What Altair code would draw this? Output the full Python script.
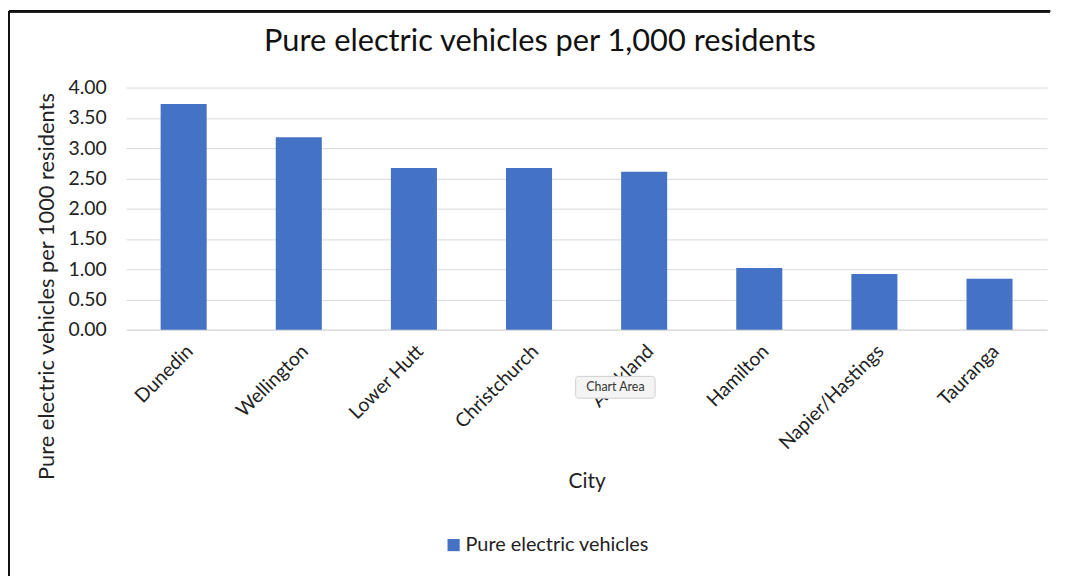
import altair as alt
import pandas as pd

cities = ["Dunedin", "Wellington", "Lower Hutt", "Christchurch", "Auckland",
          "Hamilton", "Napier/Hastings", "Tauranga"]
values = [3.73, 3.18, 2.67, 2.67, 2.61, 1.02, 0.92, 0.84]
series_name = "Pure electric vehicles"
chart_title = "Pure electric vehicles per 1,000 residents"
y_ticks = [0, 0.5, 1.0, 1.5, 2.0, 2.5, 3.0, 3.5, 4.0]

df = pd.DataFrame({"City": cities, "Value": values, "Series": [series_name] * len(cities)})

FONT = "Lato"

bars = alt.Chart(df).mark_bar(color="#4472C4").encode(
    x=alt.X("City:N", sort=cities,
            scale=alt.Scale(paddingInner=0.6, paddingOuter=0.3),
            axis=alt.Axis(title="City", labelAngle=-45, labelFontSize=19.5,
                          labelPadding=12, labelColor="#222", ticks=False,
                          domainColor="#d9d9d9", titleFontSize=21,
                          titleFontWeight="normal", titleY=153,
                          titleBaseline="middle", titleColor="#222")),
    y=alt.Y("Value:Q", scale=alt.Scale(domain=[0, 4]),
            axis=alt.Axis(title="Pure electric vehicles per 1000 residents",
                          values=y_ticks, format=".2f", labelFontSize=19.5,
                          labelPadding=20, labelColor="#222", ticks=False,
                          domain=False, gridColor="#d9d9d9",
                          titleFontSize=22, titleFontWeight="normal",
                          titleX=-80, titleY=200, titleAngle=-90,
                          titleAlign="center", titleBaseline="middle",
                          titleColor="#222")),
    color=alt.Color("Series:N", scale=alt.Scale(range=["#4472C4"]),
                    legend=alt.Legend(title=None, orient="none", legendX=320,
                                      legendY=451, symbolType="square",
                                      symbolSize=150, labelFontSize=20,
                                      labelOffset=2, labelLimit=400,
                                      labelColor="#222", labelFont=FONT)),
)

# chart title
title_df = pd.DataFrame({"t": [chart_title]})
title_mark = alt.Chart(title_df).mark_text(fontSize=31, font=FONT, color="#111",
                                            baseline="middle", align="center").encode(
    text="t:N", x=alt.value(417), y=alt.value(-46))

# chart-area frame (left and top edges)
frame_left = alt.Chart(df).mark_rule(color="#111", strokeWidth=2).encode(
    x=alt.value(-118), y=alt.value(-77), y2=alt.value(492))
frame_top = alt.Chart(df).mark_rule(color="#111", strokeWidth=2).encode(
    x=alt.value(-118), x2=alt.value(931), y=alt.value(-77))

# "Chart Area" hover tooltip visible in the screenshot
tip_df = pd.DataFrame({"t": ["Chart Area"]})
tip_box = alt.Chart(tip_df).mark_rect(fill="#f4f4f4", stroke="#cfcfcf",
                                       cornerRadius=3).encode(
    x=alt.value(453), x2=alt.value(533), y=alt.value(291), y2=alt.value(313))
tip_text = alt.Chart(tip_df).mark_text(fontSize=12.5, font=FONT, color="#333").encode(
    text="t:N", x=alt.value(493), y=alt.value(302))

chart = alt.layer(bars, title_mark, frame_left, frame_top, tip_box, tip_text).properties(
    width=928, height=244,
    autosize=alt.AutoSizeParams(type="none"),
    padding={"left": 119, "top": 78, "right": 11, "bottom": 248},
).configure(font=FONT).configure_view(stroke=None).configure_axis(
    labelFont=FONT, titleFont=FONT)

chart.save("out.html", embed_options={"renderer": "svg", "actions": False})
